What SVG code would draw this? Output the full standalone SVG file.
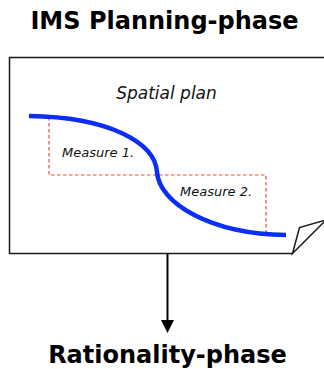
<svg xmlns="http://www.w3.org/2000/svg" width="324" height="369" viewBox="0 0 324 369">
  <style>
    .title { font-family: "DejaVu Sans", Verdana, sans-serif; font-weight: bold; font-size: 24px; fill: #000; text-anchor: middle; }
    .label { font-family: "DejaVu Sans", Verdana, sans-serif; font-style: italic; fill: #111; }
    .paper { fill: #fff; stroke: #1a1a1a; stroke-width: 1.5; stroke-linejoin: miter; }
    .guide { fill: none; stroke: #ee4a30; stroke-width: 1.2; stroke-dasharray: 3.5 2.5; }
    .curve { fill: none; stroke: #0a2ef5; stroke-width: 4.5; }
    .link { fill: none; stroke: #000; stroke-width: 2; }
  </style>

  <g id="title-planning">
    <text class="title" x="164.5" y="29">IMS Planning-phase</text>
  </g>

  <g id="spatial-plan">
    <!-- sheet with curled bottom-right corner -->
    <path class="paper" d="M330,57.5 L9.5,57.5 L9.5,253.5 L292.5,253.5"/>
    <path class="paper" d="M292.5,253.5 L299.5,227.5 L326,220 Z"/>
    <text class="label" x="166.5" y="99" font-size="17" text-anchor="middle">Spatial plan</text>
    <!-- measure guides -->
    <path class="guide" d="M49,117 V175 H266 V233"/>
    <!-- plan curve -->
    <path class="curve" d="M29,116 C110,117 155,143 157,172 C159,203 210,234 286,235"/>
    <text class="label" x="62" y="157" font-size="13">Measure 1.</text>
    <text class="label" x="180" y="196" font-size="13">Measure 2.</text>
  </g>

  <g id="connectors">
    <path class="link" d="M167.5,254 V320"/>
    <path d="M161,320 L174,320 L167.5,333 Z" fill="#000"/>
  </g>

  <g id="title-rationality">
    <text class="title" x="167.5" y="363">Rationality-phase</text>
  </g>
</svg>
